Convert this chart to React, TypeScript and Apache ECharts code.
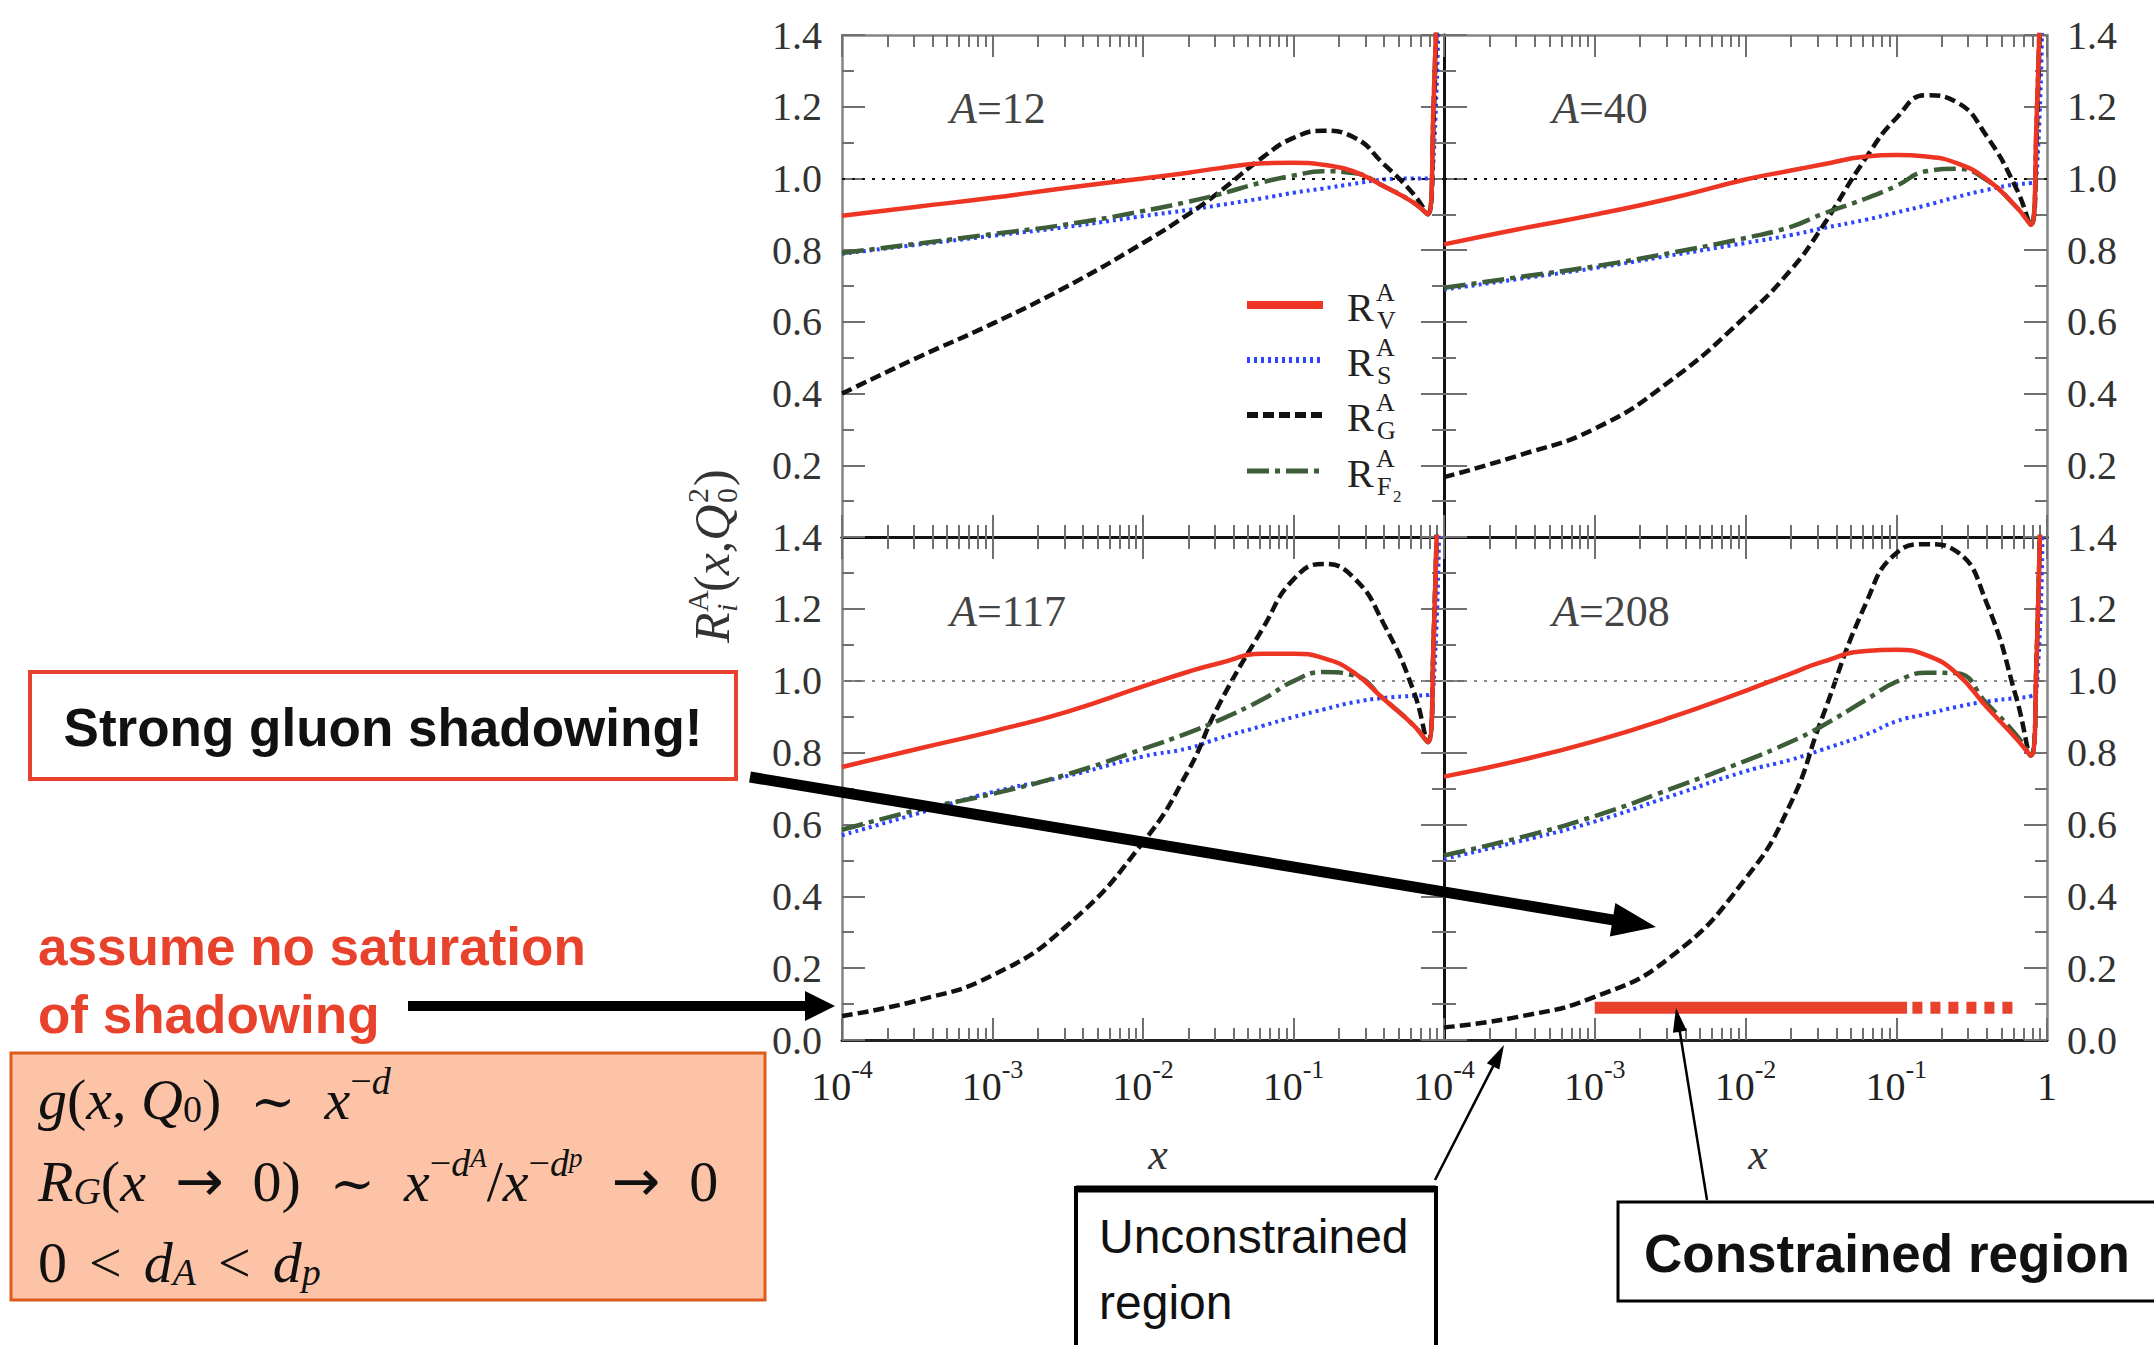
import React, { useEffect, useRef } from "react";
import * as echarts from "echarts";

// ---------------- data ----------------
const X_VALUES = [1e-4, 3.16e-4, 1e-3, 3.16e-3, 0.01, 0.02, 0.0316, 0.063, 0.1, 0.158, 0.251, 0.398, 0.631, 0.78, 0.851, 0.933];

const A12_RV = [0.896, 0.921, 0.946, 0.974, 1.0, 1.016, 1.028, 1.042, 1.044, 1.038, 1.02, 0.978, 0.932, 0.9, 1.2, 1.8];
const A12_RS = [0.79, 0.815, 0.84, 0.865, 0.895, 0.912, 0.925, 0.945, 0.96, 0.972, 0.985, 0.997, 1.0, 1.0, 1.05, 1.6];
const A12_RG = [0.4, 0.5, 0.595, 0.7, 0.82, 0.9, 0.96, 1.06, 1.113, 1.133, 1.115, 1.04, 0.955, 0.9, 1.15, 1.8];
const A12_RF2 = [0.792, 0.818, 0.845, 0.872, 0.909, 0.935, 0.955, 0.99, 1.008, 1.02, 1.015, 0.978, 0.932, 0.9, 1.2, 1.8];

const A40_RV = [0.816, 0.859, 0.899, 0.944, 0.997, 1.022, 1.038, 1.061, 1.065, 1.061, 1.043, 0.998, 0.919, 0.871, 1.15, 1.8];
const A40_RS = [0.69, 0.72, 0.75, 0.785, 0.82, 0.842, 0.86, 0.885, 0.905, 0.925, 0.948, 0.968, 0.984, 0.987, 1.0, 1.5];
const A40_RG = [0.167, 0.228, 0.302, 0.435, 0.615, 0.745, 0.859, 1.058, 1.168, 1.232, 1.213, 1.118, 0.969, 0.871, 1.1, 1.8];
const A40_RF2 = [0.695, 0.725, 0.755, 0.792, 0.834, 0.865, 0.899, 0.944, 0.979, 1.02, 1.027, 0.995, 0.919, 0.871, 1.15, 1.8];

const A117_RV = [0.76, 0.81, 0.859, 0.914, 0.984, 1.025, 1.048, 1.075, 1.075, 1.063, 1.023, 0.949, 0.875, 0.829, 1.1, 1.8];
const A117_RS = [0.57, 0.63, 0.69, 0.735, 0.789, 0.812, 0.839, 0.875, 0.899, 0.92, 0.94, 0.952, 0.958, 0.96, 0.98, 1.5];
const A117_RG = [0.067, 0.11, 0.18, 0.32, 0.55, 0.75, 0.929, 1.148, 1.282, 1.325, 1.287, 1.158, 0.969, 0.83, 1.1, 1.8];
const A117_RF2 = [0.585, 0.64, 0.685, 0.74, 0.81, 0.855, 0.889, 0.949, 0.999, 1.024, 1.015, 0.949, 0.875, 0.829, 1.1, 1.8];

const A208_RV = [0.733, 0.778, 0.832, 0.897, 0.972, 1.02, 1.051, 1.083, 1.086, 1.071, 1.021, 0.927, 0.837, 0.792, 1.05, 1.8];
const A208_RS = [0.504, 0.553, 0.608, 0.678, 0.748, 0.78, 0.807, 0.85, 0.887, 0.907, 0.927, 0.942, 0.952, 0.957, 0.97, 1.4];
const A208_RG = [0.035, 0.065, 0.12, 0.23, 0.449, 0.66, 0.887, 1.216, 1.355, 1.38, 1.36, 1.216, 0.947, 0.792, 1.05, 1.8];
const A208_RF2 = [0.514, 0.563, 0.623, 0.698, 0.777, 0.83, 0.872, 0.947, 0.997, 1.022, 1.021, 0.937, 0.847, 0.792, 1.05, 1.8];

const PANEL_LABELS = ["12", "40", "117", "208"];

// constrained region band (bottom-right panel)
const BAND_SOLID_X = [0.001, 0.118];
const BAND_DASHED_X = [0.128, 0.66];
const BAND_Y = 0.09;

const Y_MIN = 0;
const Y_MAX = 1.4;
const Y_STEP = 0.2;
const X_MIN = 1e-4;
const X_MAX = 1;

// minor log ticks (2..9 in each decade), expressed as log10 positions
const MINOR_LOG_TICKS: number[] = [];
for (let n = -4; n < 0; n++) for (let k = 2; k <= 9; k++) MINOR_LOG_TICKS.push(n + Math.log10(k));

// ---------------- styling ----------------
const SERIF = '"Liberation Serif","Times New Roman",serif';
const SANS = '"Liberation Sans",Arial,sans-serif';
const RED = "#e8412c";

const CURVE_STYLES: Record<string, any> = {
  rs: { name: "R_S", color: "#2b45ff", width: 4, type: [3, 4] },
  rg: { name: "R_G", color: "#111111", width: 4.5, type: [11, 5] },
  rf2: { name: "R_F2", color: "#3d5c38", width: 4.5, type: [22, 6, 5, 6] },
  rv: { name: "R_V", color: "#ee3524", width: 4.5, type: "solid" },
};

const GRID_BOXES = [
  { left: 842, top: 35, width: 602, height: 502 },
  { left: 1444, top: 35, width: 603, height: 502 },
  { left: 842, top: 537, width: 602, height: 503 },
  { left: 1444, top: 537, width: 603, height: 503 },
];

const TICK_STYLE = { color: "#707070", width: 2 };

function arrowPoints(x1: number, y1: number, x2: number, y2: number, shaft: number, headLen: number, headW: number) {
  const dx = x2 - x1, dy = y2 - y1;
  const L = Math.hypot(dx, dy);
  const ux = dx / L, uy = dy / L;
  const nx = -uy, ny = ux;
  const bx = x2 - ux * headLen, by = y2 - uy * headLen;
  const s = shaft / 2, h = headW / 2;
  return [
    [x1 + nx * s, y1 + ny * s],
    [bx + nx * s, by + ny * s],
    [bx + nx * h, by + ny * h],
    [x2, y2],
    [bx - nx * h, by - ny * h],
    [bx - nx * s, by - ny * s],
    [x1 - nx * s, y1 - ny * s],
  ];
}

function logAxis(g: number, pos: string, lineColor: string, lineWidth: number, showLabels: boolean, hideOne: boolean) {
  return {
    type: "log",
    logBase: 10,
    gridIndex: g,
    position: pos,
    min: X_MIN,
    max: X_MAX,
    axisLine: { show: true, onZero: false, lineStyle: { color: lineColor, width: lineWidth } },
    axisTick: { show: true, inside: true, length: 22, lineStyle: TICK_STYLE },
    splitLine: { show: false },
    axisLabel: {
      show: showLabels,
      margin: 16,
      showMinLabel: true,
      showMaxLabel: true,
      formatter: (v: number) => {
        const e = Math.round(Math.log10(v));
        if (e === 0) return hideOne ? "" : "{b|1}";
        return "{b|10}{s|" + e + "}";
      },
      rich: {
        b: { fontFamily: SERIF, fontSize: 40, color: "#222", lineHeight: 50, verticalAlign: "bottom" },
        s: { fontFamily: SERIF, fontSize: 26, color: "#222", lineHeight: 26, verticalAlign: "top" },
      },
    },
  };
}

function minorAxis(g: number, pos: string) {
  return {
    type: "value",
    gridIndex: g,
    position: pos,
    min: -4,
    max: 0,
    axisLine: { show: false, onZero: false },
    axisLabel: { show: false },
    splitLine: { show: false },
    axisTick: { show: true, inside: true, length: 12, customValues: MINOR_LOG_TICKS, lineStyle: TICK_STYLE },
  };
}

function valueAxis(g: number, pos: string, lineColor: string, lineWidth: number, showLabels: boolean, hideZero: boolean) {
  return {
    type: "value",
    gridIndex: g,
    position: pos,
    min: Y_MIN,
    max: Y_MAX,
    interval: Y_STEP,
    axisLine: { show: true, onZero: false, lineStyle: { color: lineColor, width: lineWidth } },
    axisTick: { show: true, inside: true, length: 23, lineStyle: TICK_STYLE },
    minorTick: { show: true, splitNumber: 2, length: 12, lineStyle: TICK_STYLE },
    splitLine: { show: false },
    minorSplitLine: { show: false },
    axisLabel: {
      show: showLabels,
      margin: 20,
      showMinLabel: true,
      showMaxLabel: true,
      fontFamily: SERIF,
      fontSize: 40,
      color: "#333",
      formatter: (v: number) => (hideZero && Math.abs(v) < 1e-9 ? "" : v.toFixed(1)),
    },
  };
}

function buildOption() {
  const panels = [
    { rv: A12_RV, rs: A12_RS, rg: A12_RG, rf2: A12_RF2 },
    { rv: A40_RV, rs: A40_RS, rg: A40_RG, rf2: A40_RF2 },
    { rv: A117_RV, rs: A117_RS, rg: A117_RG, rf2: A117_RF2 },
    { rv: A208_RV, rs: A208_RS, rg: A208_RG, rf2: A208_RF2 },
  ];
  const grid = GRID_BOXES.map((b) => ({ ...b, containLabel: false, outerBoundsMode: "none" }));
  const xAxis: any[] = [];
  const yAxis: any[] = [];
  const series: any[] = [];
  const inner = "#111";
  const outer = "#858585";

  panels.forEach((p: any, g) => {
    const isTop = g < 2;
    const isLeft = g % 2 === 0;
    xAxis.push(logAxis(g, "bottom", isTop ? inner : "#222", 3, !isTop, isLeft));
    xAxis.push(logAxis(g, "top", isTop ? outer : inner, isTop ? 2.5 : 3, false, false));
    xAxis.push(minorAxis(g, "bottom"));
    xAxis.push(minorAxis(g, "top"));
    yAxis.push(valueAxis(g, "left", isLeft ? outer : inner, isLeft ? 2.5 : 3, isLeft, isTop));
    yAxis.push(valueAxis(g, "right", isLeft ? inner : outer, isLeft ? 3 : 2.5, !isLeft, isTop));

    ["rs", "rg", "rf2", "rv"].forEach((key, k) => {
      const st = CURVE_STYLES[key];
      const s: any = {
        type: "line",
        name: st.name,
        xAxisIndex: g * 4,
        yAxisIndex: g * 2,
        data: X_VALUES.map((x, j) => [x, p[key][j]]),
        showSymbol: false,
        symbol: "none",
        smooth: 0.5,
        clip: true,
        silent: true,
        lineStyle: { color: st.color, width: st.width, type: st.type, cap: "butt" },
        z: 3 + k,
      };
      if (k === 0) {
        s.markLine = {
          silent: true,
          symbol: ["none", "none"],
          label: { show: false },
          lineStyle: { color: isTop ? "#111" : "#8a8a8a", width: 2, type: [3, 7] },
          data: [{ yAxis: 1 }],
        };
      }
      series.push(s);
    });
  });

  // constrained region band
  series.push({
    type: "line",
    name: "constrained",
    xAxisIndex: 12,
    yAxisIndex: 6,
    data: BAND_SOLID_X.map((x) => [x, BAND_Y]),
    showSymbol: false,
    symbol: "none",
    silent: true,
    lineStyle: { color: RED, width: 12, cap: "butt" },
    z: 8,
  });
  series.push({
    type: "line",
    name: "constrained-ext",
    xAxisIndex: 12,
    yAxisIndex: 6,
    data: BAND_DASHED_X.map((x) => [x, BAND_Y]),
    showSymbol: false,
    symbol: "none",
    silent: true,
    lineStyle: { color: RED, width: 12, type: [10, 8], cap: "butt" },
    z: 8,
  });

  // ---------------- graphics ----------------
  const Z = 100;
  const txt = (x: number, y: number, style: any, extra: any = {}) => ({
    type: "text",
    x,
    y,
    z: Z,
    silent: true,
    style: {
      align: "left",
      textAlign: "left",
      verticalAlign: "middle",
      textVerticalAlign: "middle",
      ...style,
    },
    ...extra,
  });

  const graphic: any[] = [];

  // panel labels
  const labelPos = [
    [950, 108],
    [1552, 108],
    [950, 611],
    [1552, 611],
  ];
  PANEL_LABELS.forEach((lab, i) => {
    graphic.push(
      txt(labelPos[i][0], labelPos[i][1], {
        text: "{i|A}{n|=" + lab + "}",
        fill: "#444",
        rich: {
          i: { fontFamily: SERIF, fontSize: 44, fontStyle: "italic" },
          n: { fontFamily: SERIF, fontSize: 44 },
        },
      })
    );
  });

  // legend
  const legendRows = [305, 360, 415, 471];
  const legendKeys = ["rv", "rs", "rg", "rf2"];
  const legendSubs = ["V", "S", "G", "F"];
  const legendWidths = [8, 6, 6, 5];
  legendKeys.forEach((key, i) => {
    const st = CURVE_STYLES[key];
    const y = legendRows[i];
    graphic.push({
      type: "line",
      z: Z,
      silent: true,
      shape: { x1: 1247, y1: y, x2: 1323, y2: y },
      style: { stroke: st.color, lineWidth: legendWidths[i], lineDash: st.type === "solid" ? null : st.type, lineCap: "butt" },
    });
    graphic.push(txt(1347, y + 2, { text: "R", fontFamily: SERIF, fontSize: 40, fill: "#222" }));
    graphic.push(txt(1376, y - 13, { text: "A", fontFamily: SERIF, fontSize: 26, fill: "#222" }));
    graphic.push(txt(1377, y + 15, { text: legendSubs[i], fontFamily: SERIF, fontSize: 26, fill: "#222" }));
    if (key === "rf2") graphic.push(txt(1393, y + 25, { text: "2", fontFamily: SERIF, fontSize: 17, fill: "#222" }));
  });

  // y-axis title (rotated)
  graphic.push({
    type: "group",
    x: 712,
    y: 548,
    rotation: Math.PI / 2,
    z: Z,
    silent: true,
    children: [
      txt(-95, 0, { text: "R", fontFamily: SERIF, fontSize: 50, fontStyle: "italic", fill: "#333" }),
      txt(-64, -15, { text: "A", fontFamily: SERIF, fontSize: 30, fill: "#333" }),
      txt(-64, 14, { text: "i", fontFamily: SERIF, fontSize: 30, fontStyle: "italic", fill: "#333" }),
      txt(-44, 0, {
        text: "{n|(}{i|x}{n|,}{i|Q}",
        fill: "#333",
        rich: {
          n: { fontFamily: SERIF, fontSize: 50 },
          i: { fontFamily: SERIF, fontSize: 50, fontStyle: "italic" },
        },
      }),
      txt(45, -15, { text: "2", fontFamily: SERIF, fontSize: 30, fill: "#333" }),
      txt(45, 14, { text: "0", fontFamily: SERIF, fontSize: 30, fill: "#333" }),
      txt(62, 0, { text: ")", fontFamily: SERIF, fontSize: 50, fill: "#333" }),
    ],
  });

  // x-axis names
  graphic.push(txt(1158, 1154, { text: "x", fontFamily: SERIF, fontSize: 44, fontStyle: "italic", fill: "#333", align: "center", textAlign: "center" }));
  graphic.push(txt(1758, 1154, { text: "x", fontFamily: SERIF, fontSize: 44, fontStyle: "italic", fill: "#333", align: "center", textAlign: "center" }));

  // "Strong gluon shadowing!" box
  graphic.push({ type: "rect", z: Z, silent: true, shape: { x: 30, y: 672, width: 706, height: 107 }, style: { fill: "#fff", stroke: RED, lineWidth: 4 } });
  graphic.push(txt(383, 727, { text: "Strong gluon shadowing!", fontFamily: SANS, fontWeight: "bold", fontSize: 53, fill: "#111", align: "center", textAlign: "center" }));
  graphic.push({ type: "polygon", z: Z + 1, silent: true, shape: { points: arrowPoints(750, 777, 1656, 927, 11, 44, 34) }, style: { fill: "#000" } });

  // "assume no saturation of shadowing"
  graphic.push(txt(38, 946, { text: "assume no saturation", fontFamily: SANS, fontWeight: "bold", fontSize: 53, fill: RED }));
  graphic.push(txt(38, 1014, { text: "of shadowing", fontFamily: SANS, fontWeight: "bold", fontSize: 53, fill: RED }));
  graphic.push({ type: "polygon", z: Z + 1, silent: true, shape: { points: arrowPoints(408, 1006, 835, 1006, 10, 30, 30) }, style: { fill: "#000" } });

  // formula box
  graphic.push({ type: "rect", z: Z, silent: true, shape: { x: 11, y: 1053, width: 754, height: 247 }, style: { fill: "#fcc3a7", stroke: "#dd5c1a", lineWidth: 3 } });
  const fr = {
    n: { fontFamily: SERIF, fontSize: 58, lineHeight: 66, verticalAlign: "bottom" },
    g: { fontFamily: SERIF, fontSize: 30, lineHeight: 66, verticalAlign: "bottom" },
    i: { fontFamily: SERIF, fontSize: 58, fontStyle: "italic", lineHeight: 66, verticalAlign: "bottom" },
    arr: { fontFamily: '"DejaVu Sans",sans-serif', fontSize: 58, lineHeight: 66, verticalAlign: "bottom" },
    sim: { fontFamily: '"DejaVu Serif",serif', fontSize: 54, lineHeight: 66, verticalAlign: "bottom" },
    sup: { fontFamily: SERIF, fontSize: 38, lineHeight: 34, verticalAlign: "top" },
    supi: { fontFamily: SERIF, fontSize: 38, fontStyle: "italic", lineHeight: 34, verticalAlign: "top" },
    ss: { fontFamily: SERIF, fontSize: 27, fontStyle: "italic", lineHeight: 56, verticalAlign: "top" },
    sub: { fontFamily: SERIF, fontSize: 38, lineHeight: 26, verticalAlign: "bottom" },
    subi: { fontFamily: SERIF, fontSize: 38, fontStyle: "italic", lineHeight: 26, verticalAlign: "bottom" },
  };
  graphic.push(
    txt(38, 1095, {
      text: "{i|g}{n|(}{i|x}{n|,}{n| }{i|Q}{sub|0}{n|)}{n|  }{sim|∼}{n|  }{i|x}{sup|−}{supi|d}",
      fill: "#111",
      rich: fr,
    })
  );
  graphic.push(
    txt(38, 1177, {
      text:
        "{i|R}{subi|G}{n|(}{i|x}{n|  }{arr|→}{n|  }{n|0)}{n|  }{sim|∼}{n|  }{i|x}{sup|−}{supi|d}{ss|A}{n|/}{i|x}{sup|−}{supi|d}{ss|p}{n|  }{arr|→}{n|  }{n|0}",
      fill: "#111",
      rich: fr,
    })
  );
  graphic.push(
    txt(38, 1258, {
      text: "{n|0}{n| }{g| }{n|<}{n| }{g| }{i|d}{subi|A}{n| }{g| }{n|<}{n| }{g| }{i|d}{subi|p}",
      fill: "#111",
      rich: fr,
    })
  );

  // Unconstrained region box
  graphic.push({ type: "rect", z: Z, silent: true, shape: { x: 1076, y: 1188, width: 360, height: 175 }, style: { fill: "#fff", stroke: "#000", lineWidth: 4 } });
  graphic.push({ type: "line", z: Z, silent: true, shape: { x1: 1076, y1: 1189, x2: 1436, y2: 1189 }, style: { stroke: "#000", lineWidth: 7 } });
  graphic.push(txt(1099, 1236, { text: "Unconstrained", fontFamily: SANS, fontSize: 48, fill: "#111" }));
  graphic.push(txt(1099, 1302, { text: "region", fontFamily: SANS, fontSize: 48, fill: "#111" }));
  graphic.push({ type: "polygon", z: Z + 1, silent: true, shape: { points: arrowPoints(1435, 1180, 1504, 1045, 2.5, 24, 14) }, style: { fill: "#000" } });

  // Constrained region box
  graphic.push({ type: "rect", z: Z, silent: true, shape: { x: 1618, y: 1202, width: 560, height: 99 }, style: { fill: "#fff", stroke: "#000", lineWidth: 3 } });
  graphic.push(txt(1644, 1253, { text: "Constrained region", fontFamily: SANS, fontWeight: "bold", fontSize: 53, fill: "#111" }));
  graphic.push({ type: "polygon", z: Z + 1, silent: true, shape: { points: arrowPoints(1707, 1200, 1676, 1008, 2.5, 24, 14) }, style: { fill: "#000" } });

  return {
    animation: false,
    backgroundColor: "#ffffff",
    grid,
    xAxis,
    yAxis,
    series,
    graphic,
  };
}

export default function App() {
  const ref = useRef<HTMLDivElement>(null);
  useEffect(() => {
    if (!ref.current) return;
    const chart = echarts.init(ref.current, null, { renderer: "svg" });
    chart.setOption(buildOption() as any);
    return () => chart.dispose();
  }, []);
  return (
    <div
      ref={ref}
      style={{ position: "absolute", left: 0, top: 0, width: 2154, height: 1345, background: "#fff" }}
    />
  );
}
